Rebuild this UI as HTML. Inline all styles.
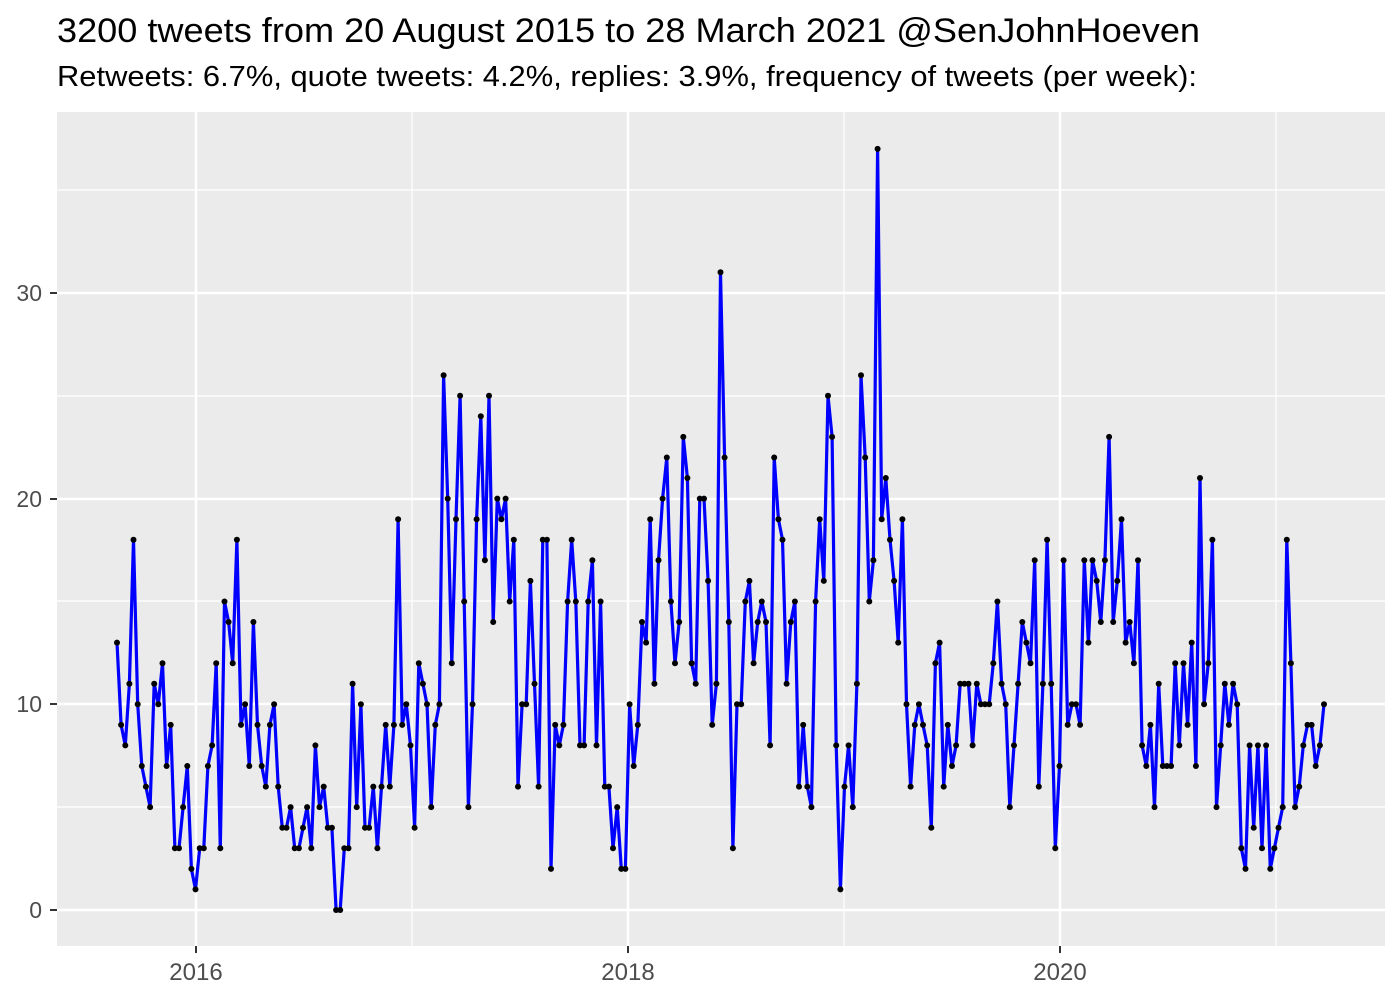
<!DOCTYPE html>
<html><head><meta charset="utf-8"><style>
html,body{margin:0;padding:0;background:#fff;width:1400px;height:1000px;overflow:hidden}
svg{display:block;font-family:"Liberation Sans",sans-serif}
</style></head><body>
<svg id="s" width="1400" height="1000" xmlns="http://www.w3.org/2000/svg">
<text x="57" y="42" font-size="34" fill="#000" textLength="1143" lengthAdjust="spacingAndGlyphs">3200 tweets from 20 August 2015 to 28 March 2021 @SenJohnHoeven</text>
<text x="57" y="86" font-size="29" fill="#000" textLength="1140" lengthAdjust="spacingAndGlyphs">Retweets: 6.7%, quote tweets: 4.2%, replies: 3.9%, frequency of tweets (per week):</text>
<rect x="57" y="112" width="1328" height="834" fill="#ebebeb"/>
<g stroke="#fff" stroke-width="1.2">
<line x1="57" x2="1385" y1="807" y2="807"/><line x1="57" x2="1385" y1="601" y2="601"/>
<line x1="57" x2="1385" y1="396" y2="396"/><line x1="57" x2="1385" y1="190" y2="190"/>
<line y1="112" y2="946" x1="412" x2="412"/><line y1="112" y2="946" x1="844" x2="844"/><line y1="112" y2="946" x1="1276" x2="1276"/>
</g>
<g stroke="#fff" stroke-width="2.5">
<line x1="57" x2="1385" y1="910" y2="910"/><line x1="57" x2="1385" y1="704" y2="704"/>
<line x1="57" x2="1385" y1="499" y2="499"/><line x1="57" x2="1385" y1="293" y2="293"/>
<line y1="112" y2="946" x1="196" x2="196"/><line y1="112" y2="946" x1="628" x2="628"/><line y1="112" y2="946" x1="1060" x2="1060"/>
</g>
<g stroke="#333" stroke-width="2">
<line x1="50" x2="57" y1="910" y2="910"/><line x1="50" x2="57" y1="704" y2="704"/>
<line x1="50" x2="57" y1="499" y2="499"/><line x1="50" x2="57" y1="293" y2="293"/>
<line y1="946" y2="953" x1="196" x2="196"/><line y1="946" y2="953" x1="628" x2="628"/><line y1="946" y2="953" x1="1060" x2="1060"/>
</g>
<g font-size="23" fill="#4d4d4d" text-anchor="end">
<text x="42" y="918">0</text><text x="42" y="712">10</text><text x="42" y="507">20</text><text x="42" y="301">30</text>
</g>
<g font-size="24" fill="#4d4d4d" text-anchor="middle">
<text x="196" y="980">2016</text><text x="628" y="980">2018</text><text x="1060" y="980">2020</text>
</g>
<g id="d"></g>
</svg>
<script>
var v=[13,9,8,11,18,10,7,6,5,11,10,12,7,9,3,3,5,7,2,1,3,3,7,8,12,3,15,14,12,18,9,10,7,14,9,7,6,9,10,6,4,4,5,3,3,4,5,3,8,5,6,4,4,0,0,3,3,11,5,10,4,4,6,3,6,9,6,9,19,9,10,8,4,12,11,10,5,9,10,26,20,12,19,25,15,5,10,19,24,17,25,14,20,19,20,15,18,6,10,10,16,11,6,18,18,2,9,8,9,15,18,15,8,8,15,17,8,15,6,6,3,5,2,2,10,7,9,14,13,19,11,17,20,22,15,12,14,23,21,12,11,20,20,16,9,11,31,22,14,3,10,10,15,16,12,14,15,14,8,22,19,18,11,14,15,6,9,6,5,15,19,16,25,23,8,1,6,8,5,11,26,22,15,17,37,19,21,18,16,13,19,10,6,9,10,9,8,4,12,13,6,9,7,8,11,11,11,8,11,10,10,10,12,15,11,10,5,8,11,14,13,12,17,6,11,18,11,3,7,17,9,10,10,9,17,13,17,16,14,17,23,14,16,19,13,14,12,17,8,7,9,5,11,7,7,7,12,8,12,9,13,7,21,10,12,18,5,8,11,9,11,10,3,2,8,4,8,3,8,2,3,4,5,18,12,5,6,8,9,9,7,8,10];
var n=v.length,x0=117,x1=1324,pts=[],c="";
for(var i=0;i<n;i++){var x=x0+(x1-x0)*i/(n-1),y=910-v[i]*20.57;pts.push(x.toFixed(1)+","+y.toFixed(1));c+='<circle cx="'+x.toFixed(1)+'" cy="'+y.toFixed(1)+'" r="3" fill="#000"/>';}
document.getElementById("d").innerHTML='<polyline points="'+pts.join(" ")+'" fill="none" stroke="#0000ff" stroke-width="3.2" stroke-linejoin="round"/>'+c;
</script>
</body></html>
